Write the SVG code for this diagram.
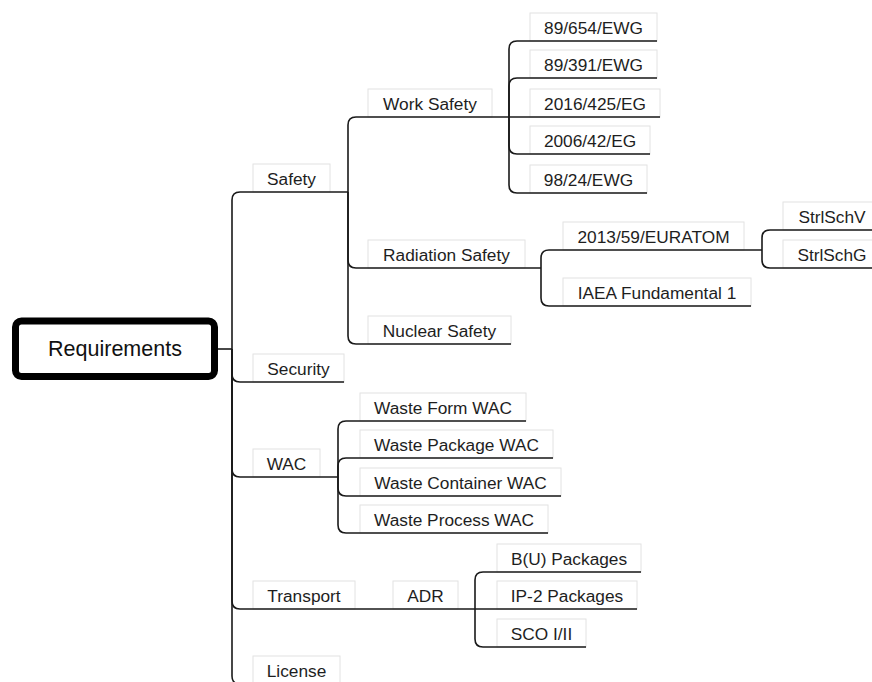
<svg xmlns="http://www.w3.org/2000/svg" width="872" height="682" viewBox="0 0 872 682">
  <style>
    .box { fill: #ffffff; stroke: #e2e2e2; stroke-width: 1; }
    .lbl { font-family: "Liberation Sans", Arial, sans-serif; font-size: 17.3px; fill: #1e1e1e; text-anchor: middle; }
    .root-lbl { font-family: "Liberation Sans", Arial, sans-serif; font-size: 21.5px; fill: #111111; text-anchor: middle; }
    .link { fill: none; stroke: #1a1a1a; stroke-width: 1.6; }
  </style>
  <rect width="872" height="682" fill="#ffffff"/>

  <!-- root -->
  <g id="requirements">
    <rect x="15.5" y="321" width="199" height="55.5" rx="6" fill="#ffffff" stroke="#000000" stroke-width="7"/>
    <text class="root-lbl" x="115" y="356">Requirements</text>
  </g>

  <!-- first level -->
  <g id="safety"><rect class="box" x="253" y="164" width="77" height="28"/><text class="lbl" x="291.5" y="185">Safety</text></g>
  <g id="security"><rect class="box" x="253" y="354" width="91" height="28"/><text class="lbl" x="298.5" y="375">Security</text></g>
  <g id="wac"><rect class="box" x="253" y="449" width="67" height="28"/><text class="lbl" x="286.5" y="470">WAC</text></g>
  <g id="transport"><rect class="box" x="253" y="581" width="102" height="28"/><text class="lbl" x="304" y="602">Transport</text></g>
  <g id="license"><rect class="box" x="253" y="656" width="87" height="28"/><text class="lbl" x="296.5" y="677">License</text></g>

  <!-- safety branch -->
  <g id="work-safety"><rect class="box" x="368" y="89" width="124" height="28"/><text class="lbl" x="430" y="110">Work Safety</text></g>
  <g id="radiation-safety"><rect class="box" x="368" y="240" width="157" height="28"/><text class="lbl" x="446.5" y="261">Radiation Safety</text></g>
  <g id="nuclear-safety"><rect class="box" x="368" y="316" width="143" height="28"/><text class="lbl" x="439.5" y="337">Nuclear Safety</text></g>

  <g id="ewg-89-654"><rect class="box" x="530" y="13" width="127" height="28"/><text class="lbl" x="593.5" y="34">89/654/EWG</text></g>
  <g id="ewg-89-391"><rect class="box" x="530" y="50" width="127" height="28"/><text class="lbl" x="593.5" y="71">89/391/EWG</text></g>
  <g id="eg-2016-425"><rect class="box" x="530" y="89" width="130" height="28"/><text class="lbl" x="595" y="110">2016/425/EG</text></g>
  <g id="eg-2006-42"><rect class="box" x="530" y="126" width="120" height="28"/><text class="lbl" x="590" y="147">2006/42/EG</text></g>
  <g id="ewg-98-24"><rect class="box" x="530" y="165" width="117" height="28"/><text class="lbl" x="588.5" y="186">98/24/EWG</text></g>

  <g id="euratom"><rect class="box" x="563" y="222" width="181" height="28"/><text class="lbl" x="653.5" y="243">2013/59/EURATOM</text></g>
  <g id="iaea"><rect class="box" x="563" y="278" width="188" height="28"/><text class="lbl" x="657" y="299">IAEA Fundamental 1</text></g>
  <g id="strlschv"><rect class="box" x="783" y="202" width="98" height="28"/><text class="lbl" x="832" y="223">StrlSchV</text></g>
  <g id="strlschg"><rect class="box" x="783" y="240" width="98" height="28"/><text class="lbl" x="832" y="261">StrlSchG</text></g>

  <!-- WAC branch -->
  <g id="waste-form"><rect class="box" x="360" y="393" width="166" height="28"/><text class="lbl" x="443" y="414">Waste Form WAC</text></g>
  <g id="waste-package"><rect class="box" x="360" y="430" width="193" height="28"/><text class="lbl" x="456.5" y="451">Waste Package WAC</text></g>
  <g id="waste-container"><rect class="box" x="360" y="468" width="201" height="28"/><text class="lbl" x="460.5" y="489">Waste Container WAC</text></g>
  <g id="waste-process"><rect class="box" x="360" y="505" width="188" height="28"/><text class="lbl" x="454" y="526">Waste Process WAC</text></g>

  <!-- transport branch -->
  <g id="adr"><rect class="box" x="393" y="581" width="65" height="28"/><text class="lbl" x="425.5" y="602">ADR</text></g>
  <g id="bu-packages"><rect class="box" x="497" y="544" width="144" height="28"/><text class="lbl" x="569" y="565">B(U) Packages</text></g>
  <g id="ip2-packages"><rect class="box" x="497" y="581" width="140" height="28"/><text class="lbl" x="567" y="602">IP-2 Packages</text></g>
  <g id="sco"><rect class="box" x="497" y="619" width="89" height="28"/><text class="lbl" x="541.5" y="640">SCO I/II</text></g>

  <!-- connectors -->
  <g id="connectors">
    <path class="link" d="M218,349 H232"/>
    <path class="link" d="M232,349 V200 Q232,192 240,192 H348"/>
    <path class="link" d="M232,349 V374 Q232,382 240,382 H344"/>
    <path class="link" d="M232,349 V469 Q232,477 240,477 H338"/>
    <path class="link" d="M232,349 V601 Q232,609 240,609 H475"/>
    <path class="link" d="M232,349 V676 Q232,684 240,684 H340"/>

    <path class="link" d="M348,192 V125 Q348,117 356,117 H509"/>
    <path class="link" d="M348,192 V260 Q348,268 356,268 H541"/>
    <path class="link" d="M348,192 V336 Q348,344 356,344 H511"/>

    <path class="link" d="M509,117 V49 Q509,41 517,41 H657"/>
    <path class="link" d="M509,117 V86 Q509,78 517,78 H657"/>
    <path class="link" d="M509,117 H660"/>
    <path class="link" d="M509,117 V146 Q509,154 517,154 H650"/>
    <path class="link" d="M509,117 V185 Q509,193 517,193 H647"/>

    <path class="link" d="M541,268 V258 Q541,250 549,250 H762"/>
    <path class="link" d="M541,268 V298 Q541,306 549,306 H751"/>

    <path class="link" d="M762,250 V238 Q762,230 770,230 H882"/>
    <path class="link" d="M762,250 V260 Q762,268 770,268 H882"/>

    <path class="link" d="M338,477 V429 Q338,421 346,421 H526"/>
    <path class="link" d="M338,477 V466 Q338,458 346,458 H553"/>
    <path class="link" d="M338,477 V488 Q338,496 346,496 H561"/>
    <path class="link" d="M338,477 V525 Q338,533 346,533 H548"/>

    <path class="link" d="M475,609 V580 Q475,572 483,572 H641"/>
    <path class="link" d="M475,609 H637"/>
    <path class="link" d="M475,609 V639 Q475,647 483,647 H586"/>
  </g>
</svg>
